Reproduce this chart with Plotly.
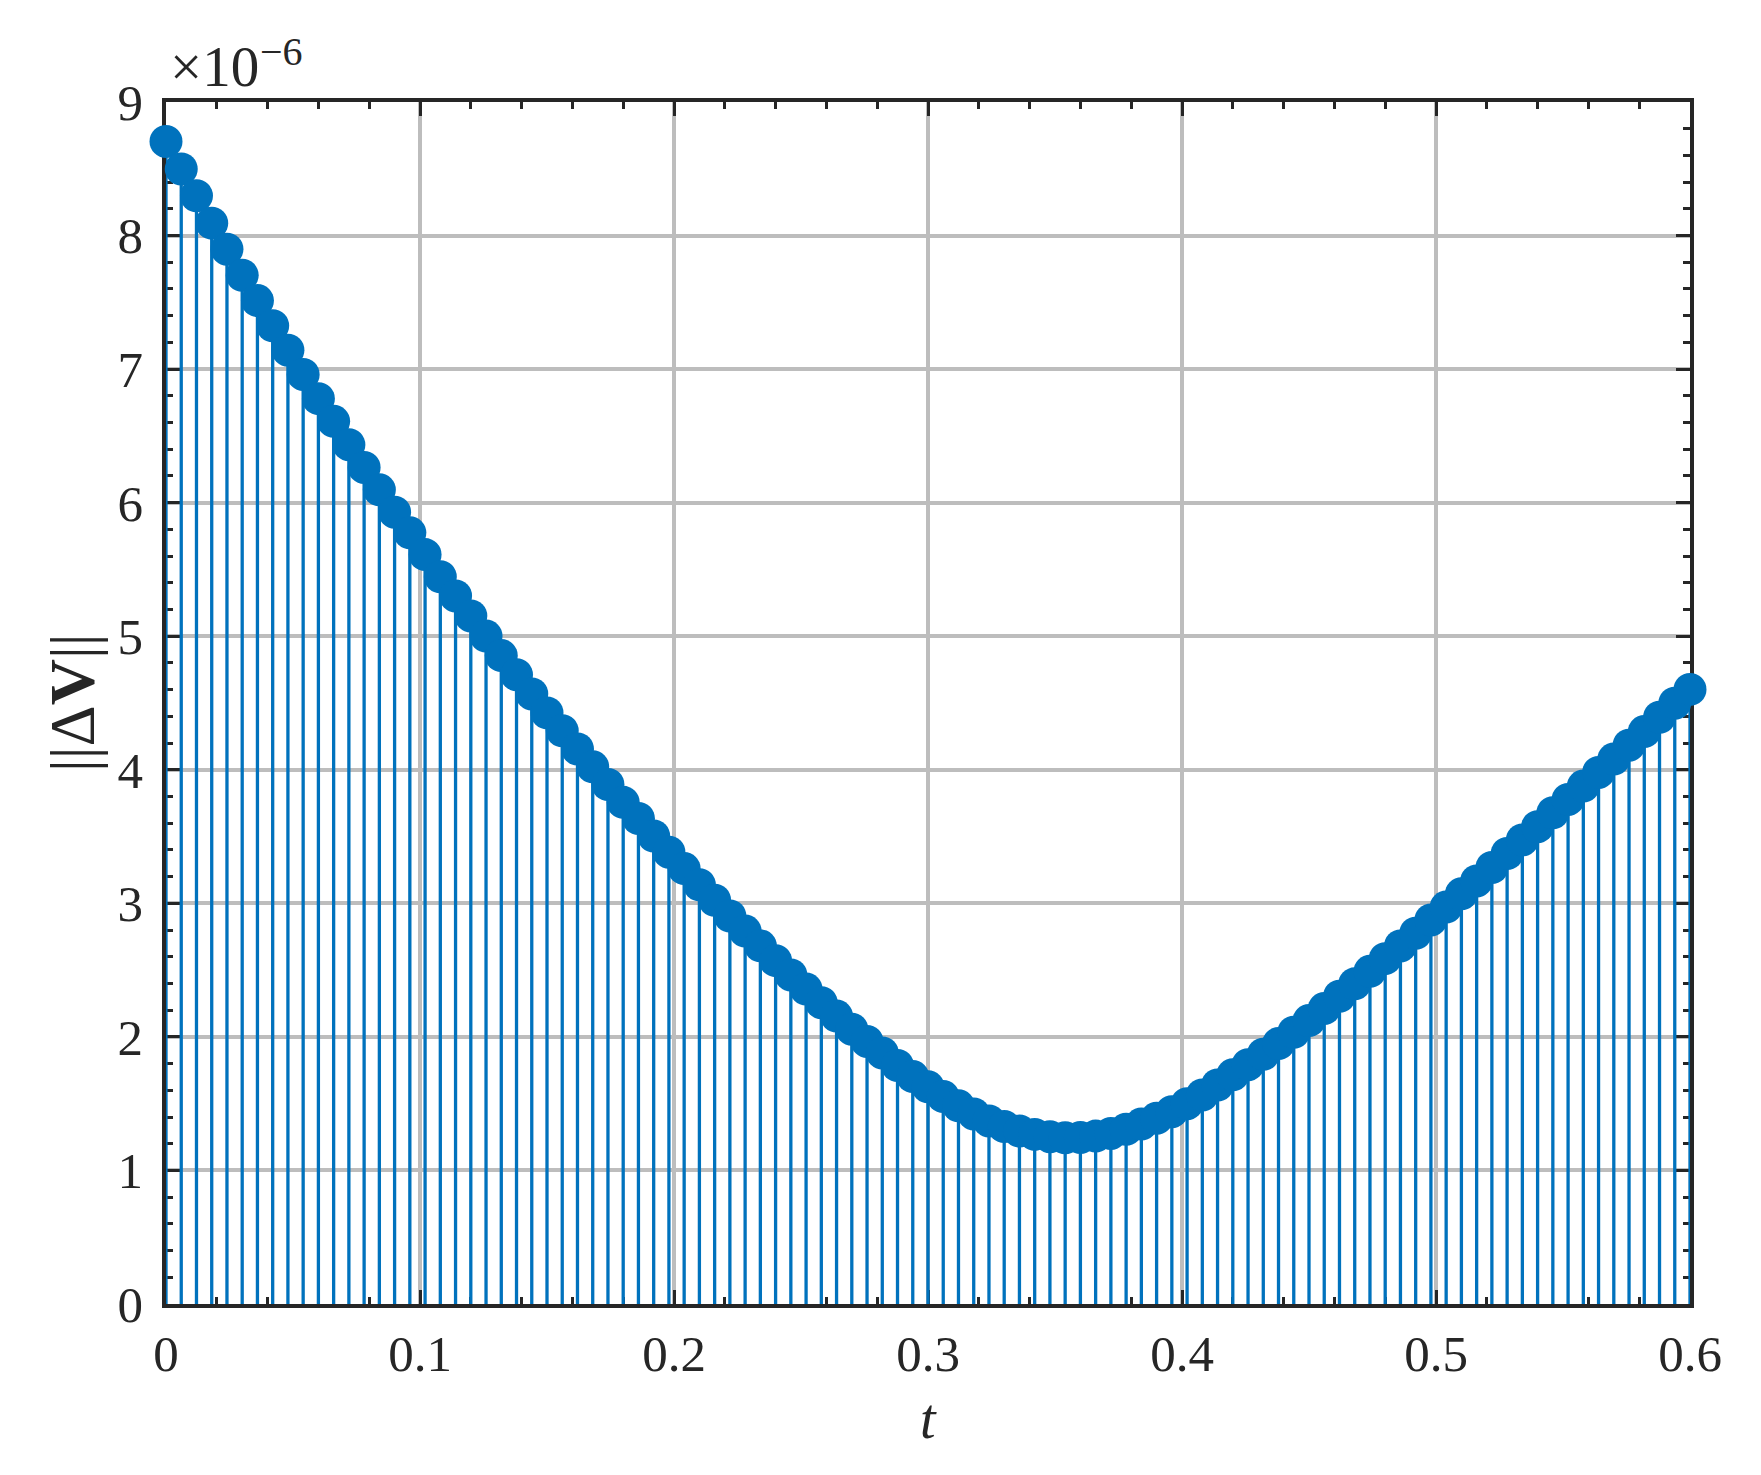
import plotly.graph_objects as go

# time samples (dt = 0.006, 0 ... 0.6)
t = [round(0.006 * i, 3) for i in range(101)]

# ||dV|| values in units of 1e-6
dv = [
    8.705, 8.498, 8.298, 8.093, 7.898, 7.703, 7.513, 7.325, 7.142, 6.960,
    6.779, 6.609, 6.434, 6.264, 6.096, 5.929, 5.774, 5.611, 5.445, 5.302,
    5.152, 5.001, 4.855, 4.712, 4.568, 4.426, 4.292, 4.156, 4.022, 3.890,
    3.756, 3.635, 3.504, 3.383, 3.260, 3.139, 3.023, 2.905, 2.792, 2.682,
    2.571, 2.464, 2.358, 2.256, 2.156, 2.058, 1.966, 1.880, 1.786, 1.703,
    1.626, 1.553, 1.484, 1.423, 1.371, 1.329, 1.295, 1.270, 1.253, 1.245,
    1.246, 1.257, 1.277, 1.308, 1.347, 1.390, 1.440, 1.500, 1.565, 1.640,
    1.716, 1.792, 1.870, 1.950, 2.035, 2.122, 2.212, 2.304, 2.397, 2.491,
    2.586, 2.681, 2.776, 2.876, 2.972, 3.071, 3.168, 3.268, 3.373, 3.475,
    3.574, 3.678, 3.778, 3.878, 3.980, 4.080, 4.184, 4.286, 4.393, 4.498,
    4.602,
]

x_ticks = [0, 0.1, 0.2, 0.3, 0.4, 0.5, 0.6]
x_ticklabels = ["0", "0.1", "0.2", "0.3", "0.4", "0.5", "0.6"]
y_ticks = [0, 1, 2, 3, 4, 5, 6, 7, 8, 9]
y_ticklabels = ["0", "1", "2", "3", "4", "5", "6", "7", "8", "9"]

BLUE = "#0072BD"
INK = "#262626"
GRID = "#bdbdbd"
FONT = "Liberation Serif"

stem_x, stem_y = [], []
for ti, vi in zip(t, dv):
    stem_x += [ti, ti, None]
    stem_y += [0, vi, None]

fig = go.Figure()
fig.add_trace(go.Scatter(x=stem_x, y=stem_y, mode="lines",
                         line=dict(color=BLUE, width=3.3),
                         hoverinfo="skip", showlegend=False))
fig.add_trace(go.Scatter(x=t, y=dv, mode="markers",
                         marker=dict(color=BLUE, size=33, line=dict(width=0)),
                         cliponaxis=False, showlegend=False))

axis_common = dict(
    showline=True, linecolor=INK, linewidth=3.5, mirror="allticks",
    ticks="inside", tickcolor=INK, tickwidth=3, ticklen=14,
    showgrid=True, gridcolor=GRID, gridwidth=3.5,
    zeroline=False, layer="below traces",
    tickfont=dict(family=FONT, size=51, color=INK),
)

fig.update_xaxes(range=[0, 0.6], tickmode="array", tickvals=x_ticks,
                 ticktext=x_ticklabels, ticklabelstandoff=2,
                 minor=dict(ticks="inside", dtick=0.02, ticklen=7,
                            tickwidth=3, tickcolor=INK, showgrid=False),
                 **axis_common)
fig.update_yaxes(range=[0, 9], tickmode="array", tickvals=y_ticks,
                 ticktext=y_ticklabels, ticklabelstandoff=9,
                 minor=dict(ticks="inside", dtick=0.2, ticklen=7,
                            tickwidth=3, tickcolor=INK, showgrid=False),
                 **axis_common)

fig.update_layout(
    width=1761, height=1475,
    margin=dict(l=158, r=79, t=94, b=179, autoexpand=False),
    paper_bgcolor="white", plot_bgcolor="white",
    font=dict(family=FONT, color=INK),
    annotations=[
        dict(text="×10", xref="paper", yref="paper",
             x=0.0, y=1.0, xanchor="left", yanchor="bottom",
             xshift=2, yshift=2, showarrow=False,
             font=dict(family=FONT, size=57, color=INK)),
        dict(text="−6", xref="paper", yref="paper",
             x=0.0, y=1.0, xanchor="left", yanchor="bottom",
             xshift=92, yshift=26, showarrow=False,
             font=dict(family=FONT, size=40, color=INK)),
        dict(text="<i>t</i>", xref="paper", yref="paper",
             x=0.5, y=0.0, xanchor="center", yanchor="top",
             yshift=-82, showarrow=False,
             font=dict(family=FONT, size=56, color=INK)),
        dict(text="||Δ<b>V</b>||", xref="paper", yref="paper",
             x=0.0, y=0.5, xanchor="center", yanchor="middle",
             xshift=-94, textangle=-90, showarrow=False,
             font=dict(family=FONT, size=64, color=INK)),
    ],
)

fig.write_html("out.html")
